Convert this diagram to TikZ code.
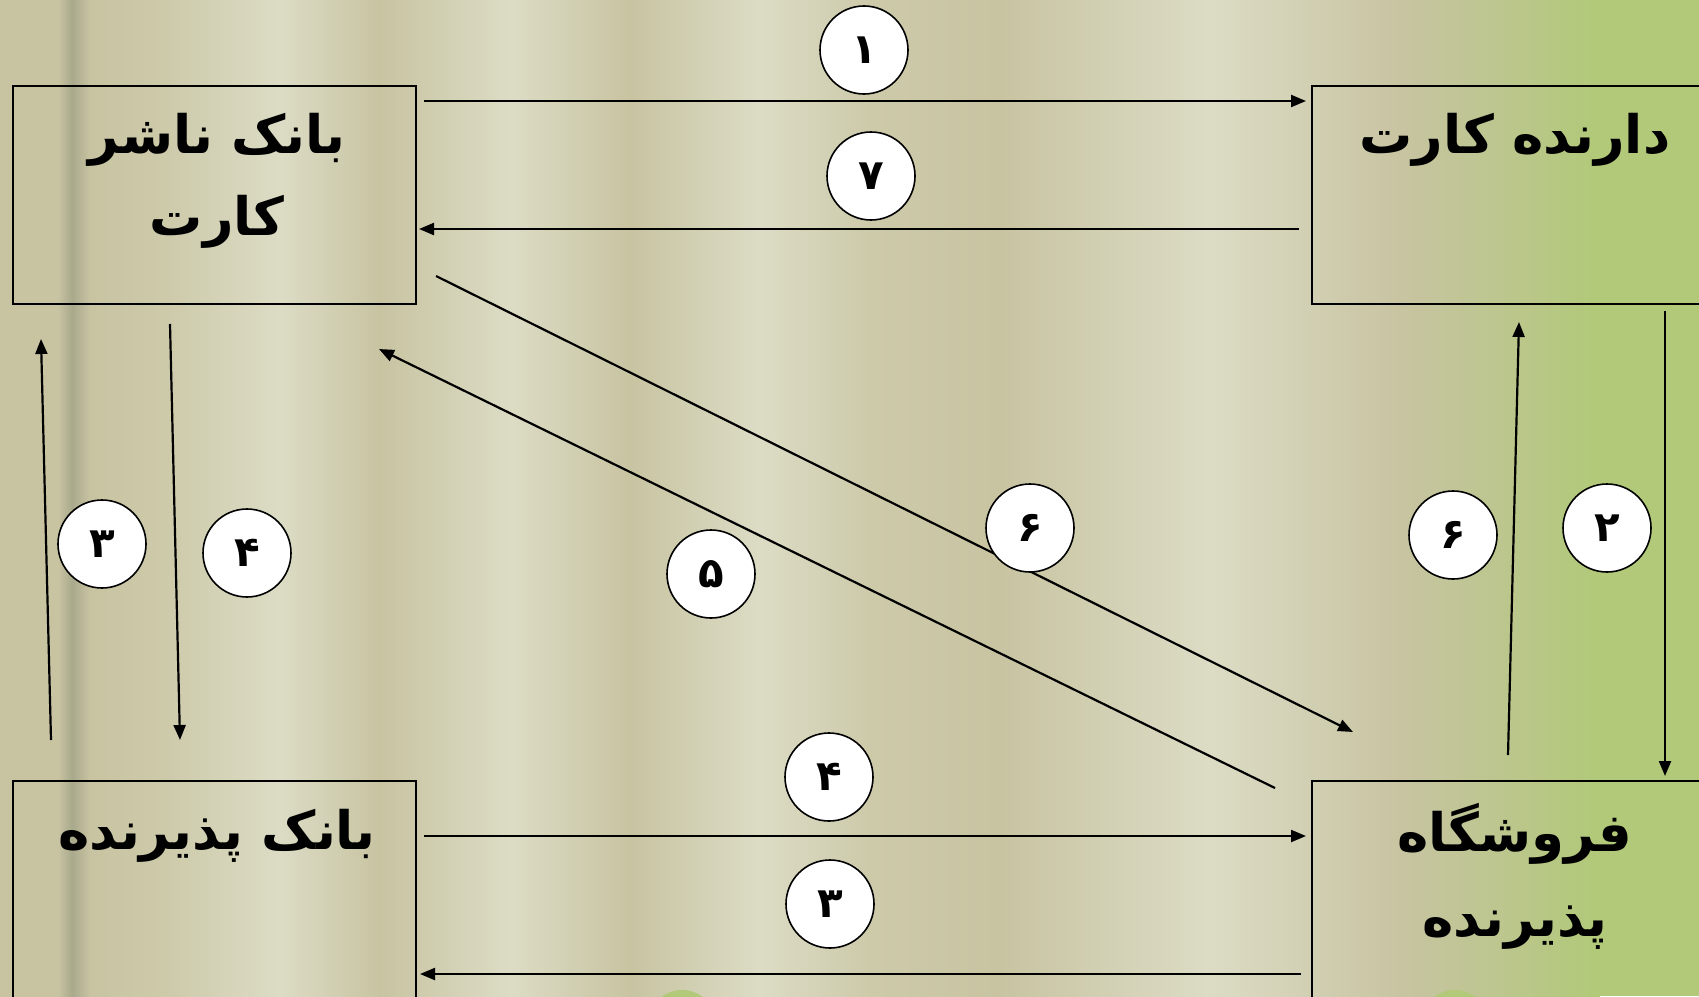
\documentclass[tikz,border=0pt]{standalone}
\usepackage{fontspec}
\usetikzlibrary{arrows.meta}
\TeXXeTstate=1
\newfontfamily\arabicfont[Script=Arabic]{DejaVu Sans}
\definecolor{cK}{HTML}{C8C4A2}
\definecolor{cK2}{HTML}{CDCAAA}
\definecolor{cL}{HTML}{DCDCC5}
\definecolor{cD}{HTML}{A9A98C}
\definecolor{cT}{HTML}{BCC68E}
\definecolor{cG}{HTML}{B1C978}
\tikzset{
  box/.style={draw=black, line width=2.2pt, minimum width=403pt, minimum height=218pt, inner sep=0pt, anchor=north west},
  lbl/.style={font=\arabicfont\bfseries\fontsize{53}{60}\selectfont, inner sep=0pt},
  num/.style={circle, draw=black, fill=white, line width=1.6pt, minimum size=88pt, inner sep=0pt, font=\arabicfont\bfseries\fontsize{42}{48}\selectfont},
  conn/.style={line width=2.2pt, -{Triangle[length=15pt,width=12pt]}}
}
\begin{document}
\begin{tikzpicture}[x=1pt,y=-1pt]
\useasboundingbox (0,0) rectangle (1699,996);
\clip (0,0) rectangle (1699,996);
% background stripes
\shade[left color=cK, right color=cK] (0,0) rectangle (58,996);
\shade[left color=cK, right color=cD] (58,0) rectangle (72,996);
\shade[left color=cD, right color=cK] (72,0) rectangle (90,996);
\shade[left color=cK, right color=cK2] (90,0) rectangle (165,996);
\shade[left color=cK2, right color=cL] (165,0) rectangle (280,996);
\shade[left color=cL, right color=cK] (280,0) rectangle (380,996);
\shade[left color=cK, right color=cL] (380,0) rectangle (510,996);
\shade[left color=cL, right color=cK] (510,0) rectangle (630,996);
\shade[left color=cK, right color=cL] (630,0) rectangle (760,996);
\shade[left color=cL, right color=cK2] (760,0) rectangle (870,996);
\shade[left color=cK2, right color=cK] (870,0) rectangle (1000,996);
\shade[left color=cK, right color=cL] (1000,0) rectangle (1210,996);
\shade[left color=cL, right color=cK] (1210,0) rectangle (1400,996);
\shade[left color=cK, right color=cT] (1400,0) rectangle (1500,996);
\shade[left color=cT, right color=cG] (1500,0) rectangle (1600,996);
\fill[cG] (1600,0) rectangle (1699,996);
% green blobs peeking at the bottom
\fill[cG] (682,1024) circle (34);
\fill[cG] (1455,1024) circle (34);
% boxes
\node[box] (issuer) at (12,84.5) {};
\node[box] (holder) at (1311,84.5) {};
\node[box] (acq) at (12,780) {};
\node[box] (shop) at (1311,780) {};
% box texts
\node[lbl] (issuerT1) at (217,140) {\beginR بانک ناشر\endR};
\node[lbl] (issuerT2) at (217,222) {\beginR کارت\endR};
\node[lbl] (holderT) at (1515,140) {\beginR دارنده کارت\endR};
\node[lbl] (acqT) at (217,836) {\beginR بانک پذیرنده\endR};
\node[lbl] (shopT1) at (1515,834) {\beginR فروشگاه\endR};
\node[lbl] (shopT2) at (1515,928) {\beginR پذیرنده\endR};
% connector end points
\coordinate (a1s) at (424,101);  \coordinate (a1e) at (1306,101);
\coordinate (a7s) at (1299,229); \coordinate (a7e) at (419,229);
\coordinate (aLus) at (51,740);  \coordinate (aLue) at (41,339);
\coordinate (aLds) at (170,324); \coordinate (aLde) at (180,740);
\coordinate (aD6s) at (436,276); \coordinate (aD6e) at (1353,732);
\coordinate (aD5s) at (1275,788); \coordinate (aD5e) at (379,349);
\coordinate (aRus) at (1508,755); \coordinate (aRue) at (1519,322);
\coordinate (aRds) at (1665,311); \coordinate (aRde) at (1665,776);
\coordinate (aB4s) at (424,836); \coordinate (aB4e) at (1306,836);
\coordinate (aB3s) at (1301,974); \coordinate (aB3e) at (420,974);
% connectors
\draw[conn] (a1s) -- (a1e);
\draw[conn] (a7s) -- (a7e);
\draw[conn] (aLus) -- (aLue);
\draw[conn] (aLds) -- (aLde);
\draw[conn] (aD6s) -- (aD6e);
\draw[conn] (aD5s) -- (aD5e);
\draw[conn] (aRus) -- (aRue);
\draw[conn] (aRds) -- (aRde);
\draw[conn] (aB4s) -- (aB4e);
\draw[conn] (aB3s) -- (aB3e);
% step numbers
\node[num] (n1) at (864,50) {۱};
\node[num] (n7) at (871,176) {۷};
\node[num] (n3L) at (102,544) {۳};
\node[num] (n4L) at (247,553) {۴};
\node[num] (n6D) at (1030,528) {۶};
\node[num] (n5D) at (711,574) {۵};
\node[num] (n6R) at (1453,535) {۶};
\node[num] (n2R) at (1607,528) {۲};
\node[num] (n4B) at (829,777) {۴};
\node[num] (n3B) at (830,904) {۳};
\end{tikzpicture}
\end{document}
